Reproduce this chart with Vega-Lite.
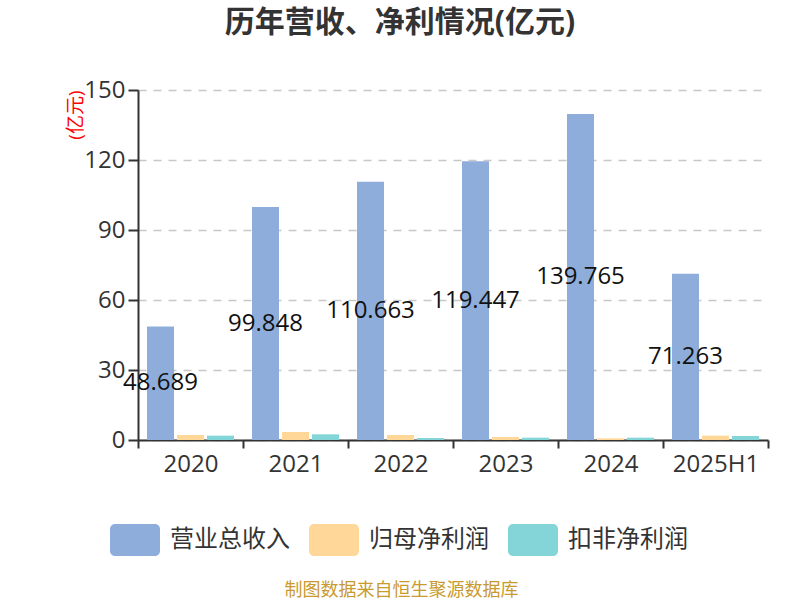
{
  "$schema": "https://vega.github.io/schema/vega-lite/v6.json",
  "width": 630,
  "height": 350,
  "autosize": {"type": "none"},
  "padding": {"left": 138, "top": 90, "right": 32, "bottom": 160},
  "title": {
    "text": "历年营收、净利情况(亿元)",
    "fontSize": 30,
    "fontWeight": "bold",
    "color": "#333333",
    "anchor": "middle",
    "dx": -53,
    "offset": 40
  },
  "data": {
    "values": [
      {"year": "2020", "type": "营业总收入", "value": 48.689},
      {"year": "2020", "type": "归母净利润", "value": 2.14},
      {"year": "2020", "type": "扣非净利润", "value": 1.86},
      {"year": "2021", "type": "营业总收入", "value": 99.848},
      {"year": "2021", "type": "归母净利润", "value": 3.43},
      {"year": "2021", "type": "扣非净利润", "value": 2.43},
      {"year": "2022", "type": "营业总收入", "value": 110.663},
      {"year": "2022", "type": "归母净利润", "value": 2.14},
      {"year": "2022", "type": "扣非净利润", "value": 0.86},
      {"year": "2023", "type": "营业总收入", "value": 119.447},
      {"year": "2023", "type": "归母净利润", "value": 1.29},
      {"year": "2023", "type": "扣非净利润", "value": 1.0},
      {"year": "2024", "type": "营业总收入", "value": 139.765},
      {"year": "2024", "type": "归母净利润", "value": 0.71},
      {"year": "2024", "type": "扣非净利润", "value": 1.0},
      {"year": "2025H1", "type": "营业总收入", "value": 71.263},
      {"year": "2025H1", "type": "归母净利润", "value": 1.86},
      {"year": "2025H1", "type": "扣非净利润", "value": 1.71}
    ]
  },
  "layer": [
    {
      "mark": {"type": "bar"},
      "encoding": {
        "x": {
          "field": "year",
          "type": "nominal",
          "sort": null,
          "scale": {"paddingInner": 0, "paddingOuter": 0},
          "axis": {
            "labelAngle": 0,
            "labelFontSize": 24,
            "labelColor": "#333333",
            "labelPadding": 4,
            "tickBand": "extent",
            "tickSize": 8,
            "tickWidth": 2,
            "tickColor": "#333333",
            "domainColor": "#333333",
            "domainWidth": 2,
            "title": "制图数据来自恒生聚源数据库",
            "titleFontSize": 18,
            "titleFontWeight": "normal",
            "titleColor": "#c99a2e",
            "titleX": 263,
            "titleY": 150,
            "titleAlign": "center",
            "titleBaseline": "middle"
          }
        },
        "xOffset": {
          "field": "type",
          "scale": {"domain": ["营业总收入", "归母净利润", "扣非净利润"], "paddingInner": 0.1, "paddingOuter": 0.3}
        },
        "y": {
          "field": "value",
          "type": "quantitative",
          "scale": {"domain": [0, 150], "nice": false},
          "axis": {
            "values": [0, 30, 60, 90, 120, 150],
            "labelFontSize": 24,
            "labelColor": "#333333",
            "labelPadding": 3,
            "tickSize": 10,
            "tickWidth": 2,
            "tickColor": "#333333",
            "domainColor": "#333333",
            "domainWidth": 2,
            "grid": true,
            "gridDash": [8, 7],
            "gridColor": "#c8c8c8",
            "gridWidth": 1.5,
            "title": "(亿元)",
            "titleColor": "#ff0000",
            "titleFontSize": 19,
            "titleFontWeight": "normal",
            "titleAnchor": "end",
            "titleX": -53
          }
        },
        "color": {
          "field": "type",
          "scale": {
            "domain": ["营业总收入", "归母净利润", "扣非净利润"],
            "range": ["#8eaddb", "#ffd899", "#83d5d8"]
          },
          "legend": {
            "title": null,
            "orient": "none",
            "legendX": -28,
            "legendY": 425,
            "direction": "horizontal",
            "labelFontSize": 24,
            "labelColor": "#333333",
            "labelOffset": 10,
            "columnPadding": 19,
            "symbolType": "M-0.8,-0.64 L0.8,-0.64 A0.2,0.2 0 0 1 1,-0.44 L1,0.44 A0.2,0.2 0 0 1 0.8,0.64 L-0.8,0.64 A0.2,0.2 0 0 1 -1,0.44 L-1,-0.44 A0.2,0.2 0 0 1 -0.8,-0.64 Z",
            "symbolSize": 2500,
            "symbolStrokeWidth": 0,
            "symbolOpacity": 1
          }
        }
      }
    },
    {
      "transform": [{"filter": "datum.type == '营业总收入'"}],
      "mark": {"type": "text", "fontSize": 24, "color": "#111111", "baseline": "middle", "align": "center"},
      "encoding": {
        "x": {"field": "year", "type": "nominal", "sort": null},
        "xOffset": {"field": "type", "scale": {"domain": ["营业总收入", "归母净利润", "扣非净利润"]}},
        "y": {"field": "value", "type": "quantitative", "scale": {"domain": [0, 300], "nice": false}, "axis": null},
        "text": {"field": "value", "type": "quantitative", "format": ".3f"}
      }
    }
  ],
  "resolve": {"scale": {"y": "independent"}},
  "config": {
    "font": "Open Sans, Noto Sans CJK SC",
    "view": {"stroke": null}
  }
}
